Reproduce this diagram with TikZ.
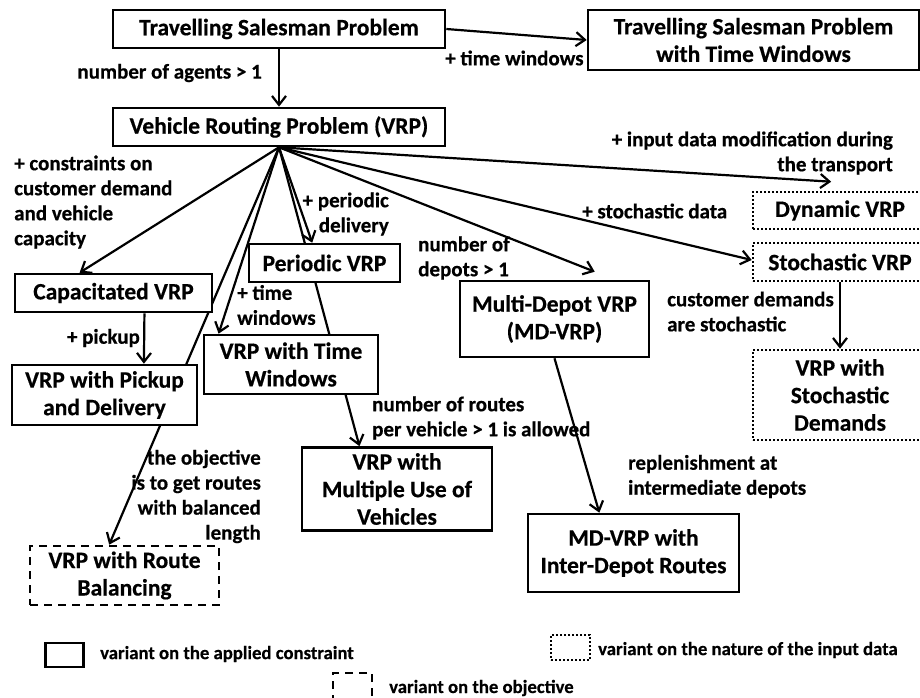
\documentclass[tikz,border=0pt]{standalone}
\usepackage{fontspec}
\setmainfont{Carlito}[BoldFeatures={FakeBold=0.5}]
\usetikzlibrary{arrows.meta,calc,backgrounds}

\newcommand{\boxfont}{\fontsize{23.5}{27.5}\selectfont\bfseries}
\newcommand{\lblfont}{\fontsize{21}{25}\selectfont\bfseries}
\newcommand{\keyfont}{\fontsize{18.7}{21}\selectfont\bfseries}

\tikzset{
  frame/.style={line width=2.6pt, fill=white, align=center, inner sep=0pt, font=\boxfont},
  solidbox/.style={frame, draw},
  dotbox/.style={frame, draw, dash pattern=on 2pt off 2pt},
  dashbox/.style={frame, draw, dash pattern=on 8pt off 6pt},
  lbl/.style={font=\lblfont, inner sep=0pt},
  keytext/.style={font=\keyfont, inner sep=0pt, anchor=west},
  conn/.style={line width=2.2pt},
  arr/.style={conn, -{Straight Barb[length=9pt,width=14pt,line width=2.2pt]}},
}

\begin{document}
\begin{tikzpicture}[x=1pt,y=-1pt]
\useasboundingbox (0,0) rectangle (920,697);

% problem variants
\node[solidbox, minimum width=332pt, minimum height=38pt] (tsp) at (279,29) {Travelling Salesman Problem};
\node[solidbox, minimum width=331pt, minimum height=60pt] (tsptw) at (753.5,40) {Travelling Salesman Problem\\with Time Windows};
\node[solidbox, minimum width=332pt, minimum height=38pt] (vrp) at (279,127) {Vehicle Routing Problem (VRP)};
\node[solidbox, minimum width=197pt, minimum height=38pt] (cap) at (113.5,293) {Capacitated VRP};
\node[solidbox, minimum width=151pt, minimum height=38pt] (per) at (324.5,263) {Periodic VRP};
\node[solidbox, minimum width=185pt, minimum height=60pt] (pick) at (104.5,395) {VRP with Pickup\\and Delivery};
\node[solidbox, minimum width=174pt, minimum height=59pt] (tw) at (291,364.5) {VRP with Time\\Windows};
\node[solidbox, minimum width=190pt, minimum height=83pt] (mu) at (397,489) {VRP with\\Multiple Use of\\Vehicles};
\node[solidbox, minimum width=189pt, minimum height=76pt] (md) at (554.5,319) {Multi-Depot VRP\\(MD-VRP)};
\node[solidbox, minimum width=211pt, minimum height=78pt] (idr) at (633.5,553) {MD-VRP with\\Inter-Depot Routes};
\node[dotbox, minimum width=174pt, minimum height=37pt] (dyn) at (840,210.5) {Dynamic VRP};
\node[dotbox, minimum width=174pt, minimum height=38pt] (stoch) at (840,262) {Stochastic VRP};
\node[dotbox, minimum width=174pt, minimum height=90pt] (sd) at (840,395) {VRP with\\Stochastic\\Demands};
\node[dashbox, minimum width=189pt, minimum height=59pt] (rb) at (124.5,575.5) {VRP with Route\\Balancing};

% free arrow ends just above their boxes
\coordinate (dyntip) at ($(dyn.north west)!0.45!(dyn.north east)+(0,-9)$);
\coordinate (mdtip) at ($(md.north west)!0.71!(md.north east)+(0,-8)$);

% edge labels
\node[lbl, anchor=east] (lagents) at (262,73) {number of agents > 1};
\node[lbl, anchor=west] (ltw) at (445,58) {+ time windows};
\node[lbl, anchor=west, align=left] (lcons) at (14,202) {+ constraints on\\customer demand\\and vehicle\\capacity};
\node[lbl, anchor=east, align=right] (lper) at (389,214) {+ periodic\\delivery};
\node[lbl, anchor=west, align=left] (ldep) at (418,258) {number of\\depots > 1};
\node[lbl, anchor=west] (lstoch) at (582,211) {+ stochastic data};
\node[lbl, anchor=east, align=right] (ldyn) at (893,153) {+ input data modification during\\the transport};
\node[lbl, anchor=east] (lpick) at (140,338) {+ pickup};
\node[lbl, anchor=west, align=left] (lvtw) at (237,305) {+ time\\windows};
\node[lbl, anchor=west, align=left] (lroutes) at (372,418) {number of routes\\per vehicle > 1 is allowed};
\node[lbl, anchor=west, align=left] (ldem) at (667,311.5) {customer demands\\are stochastic};
\node[lbl, anchor=west, align=left] (lrep) at (628,476.5) {replenishment at\\intermediate depots};
\node[lbl, anchor=east, align=right] (lobj) at (261,496.5) {the objective\\is to get routes\\with balanced\\length};

% key
\node[solidbox, minimum width=38pt, minimum height=24pt] (k1) at (64.5,655) {};
\node[keytext] (k1t) at (100,654) {variant on the applied constraint};
\node[dotbox, minimum width=39pt, minimum height=25pt] (k2) at (570.5,647.5) {};
\node[keytext] (k2t) at (598,650) {variant on the nature of the input data};
\node[dashbox, minimum width=39pt, minimum height=26pt] (k3) at (352.5,686) {};
\node[keytext] (k3t) at (389,688) {variant on the objective};

% connectors, kept behind the boxes
\begin{pgfonlayer}{background}
\draw[arr] (tsp.south) -- (vrp.north);
\draw[arr] (tsp.east) -- (tsptw.west);
\draw[arr] (vrp.south) -- ($(cap.north west)!0.33!(cap.north east)$);
\draw[arr] (vrp.south) -- ($(rb.north west)!0.42!(rb.north east)$);
\draw[arr] (vrp.south) -- ($(tw.north west)!0.09!(tw.north east)$);
\draw[arr] (vrp.south) -- ($(per.north west)!0.42!(per.north east)$);
\draw[arr] (vrp.south) -- ($(mu.north west)!0.305!(mu.north east)$);
\draw[arr] (vrp.south) -- (mdtip);
\draw[arr] (vrp.south) -- ($(stoch.north west)!0.45!(stoch.south west)$);
\draw[arr] (vrp.south) -- (dyntip);
\draw[arr] ($(cap.south west)!0.655!(cap.south east)$) -- ($(pick.north west)!0.71!(pick.north east)$);
\draw[arr] (stoch.south) -- (sd.north);
\draw[arr] (md.south) -- ($(idr.north west)!0.34!(idr.north east)$);
\end{pgfonlayer}
\end{tikzpicture}
\end{document}
